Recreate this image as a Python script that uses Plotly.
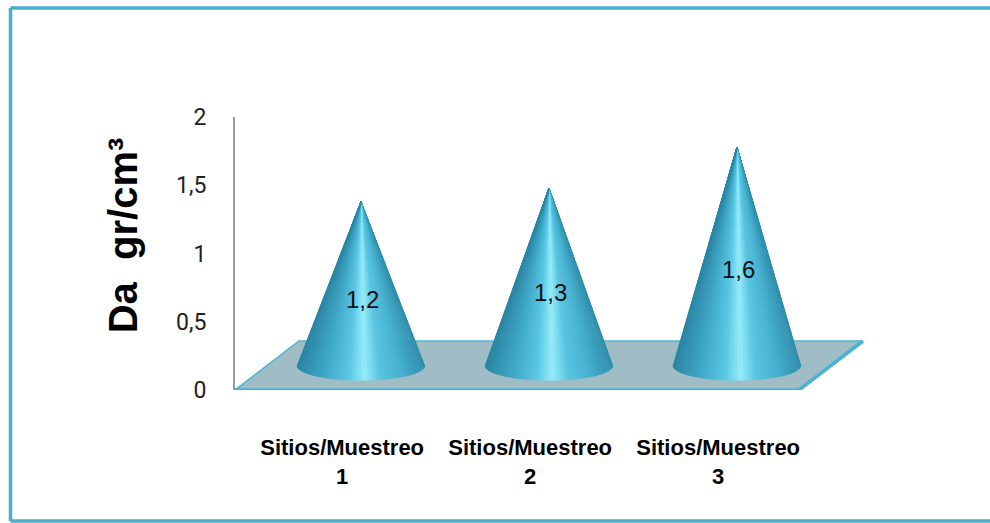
import numpy as np
import plotly.graph_objects as go

# ---- data ----
categories = ["Sitios/Muestreo<br>1", "Sitios/Muestreo<br>2", "Sitios/Muestreo<br>3"]
values = [1.2, 1.3, 1.6]
value_labels = ["1,2", "1,3", "1,6"]
y_tickvals = [0, 0.5, 1, 1.5, 2]
y_ticktext = ["0", "0,5", "1", "1,5", "2"]
y_title = "Da\u00a0\u00a0gr/cm³"

# ---- pseudo-3D geometry (style constants) ----
DX, DY = 0.34, 0.359          # depth offset of floor (x units, y units)
RA, RB = 0.34, 0.108          # cone base ellipse semi-axes (x units, y units)
N = 64

pos = np.arange(len(categories), dtype=float)

stops_u = [-1.0, -0.6, -0.2, 0.05, 0.3, 0.6, 1.0]
stops_c = np.array([
    (42, 134, 164),
    (62, 166, 198),
    (88, 200, 228),
    (150, 236, 250),
    (88, 196, 224),
    (72, 180, 210),
    (46, 142, 172),
], dtype=float)


def shade(u):
    c = [np.interp(u, stops_u, stops_c[:, k]) for k in range(3)]
    return "rgb(%d,%d,%d)" % tuple(int(round(v)) for v in c)


fig = go.Figure()

# floor
x0, x1 = pos[0] - 0.5, pos[-1] + 0.5
fig.add_trace(go.Scatter(
    x=[x0, x0 + DX, x1 + DX, x1, x0], y=[0, DY, DY, 0, 0],
    mode="lines", fill="toself", fillcolor="#a0bcc4",
    line=dict(color="#4fb6d2", width=1.5), hoverinfo="skip", showlegend=False))
fig.add_trace(go.Scatter(
    x=[x0, x1, x1 + DX], y=[0, 0, DY], mode="lines",
    line=dict(color="#4ab2cf", width=3.5), hoverinfo="skip", showlegend=False))

# cones
for p, v in zip(pos, values):
    cx, cy = p + DX / 2, DY / 2
    tx, ty = cx, cy + v
    th = np.linspace(0, np.pi, N + 1)
    for k in range(N):
        a, b = th[k], th[k + 1]
        u = np.cos((a + b) / 2)
        col = shade(u)
        xs = [tx, cx + RA * np.cos(a), cx + RA * np.cos((a + b) / 2), cx + RA * np.cos(b), tx]
        ys = [ty, cy - RB * np.sin(a), cy - RB * np.sin((a + b) / 2), cy - RB * np.sin(b), ty]
        fig.add_trace(go.Scatter(
            x=xs, y=ys, mode="lines", fill="toself", fillcolor=col,
            line=dict(color=col, width=0.8), hoverinfo="skip", showlegend=False))

# value labels
for p, v, t in zip(pos, values, value_labels):
    fig.add_annotation(x=p + DX / 2 + 0.01, y=v * 0.55, text=t, showarrow=False,
                       font=dict(family="Liberation Sans Narrow, Liberation Sans, Arial", size=24, color="#111"))

# y title
fig.add_annotation(xref="paper", yref="paper", x=-0.169, y=0.566, text=y_title,
                   textangle=-90, showarrow=False, xanchor="center", yanchor="middle",
                   font=dict(family="Liberation Sans, Arial", size=40, color="#000", weight="bold"))

# frame (left, top, bottom edges; right edge lies beyond the picture)
L, T = 235, 117
W, H = 658, 273
def px(x): return (x - L) / W
def py(y): return (T + H - y) / H
frame = dict(color="#4aaecb", width=3.5)
for (xa, ya, xb, yb) in [(10.5, 8, 10.5, 521), (10.5, 8, 990, 8), (10.5, 521, 990, 521)]:
    fig.add_shape(type="line", xref="paper", yref="paper",
                  x0=px(xa), y0=py(ya), x1=px(xb), y1=py(yb), line=frame, layer="above")

fig.update_layout(
    width=990, height=523,
    margin=dict(l=L, r=990 - L - W, t=T, b=523 - T - H),
    paper_bgcolor="white", plot_bgcolor="white",
    showlegend=False,
    xaxis=dict(range=[-0.5, 3.0], showgrid=False, zeroline=False, showline=False,
               tickvals=list(pos + 0.07), ticktext=categories, ticks="",
               ticklabelstandoff=42,
               tickfont=dict(family="Liberation Sans, Arial", size=22, color="#000", weight="bold")),
    yaxis=dict(range=[0, 2], showgrid=False, zeroline=False, showline=True,
               linecolor="#9a9a9a", linewidth=2,
               tickvals=y_tickvals, ticktext=y_ticktext, ticks="",
               ticklabelstandoff=22,
               tickfont=dict(family="Roboto, Liberation Sans, Arial", size=23, color="#222")),
)

fig.write_html("out.html", config={"displayModeBar": False})
